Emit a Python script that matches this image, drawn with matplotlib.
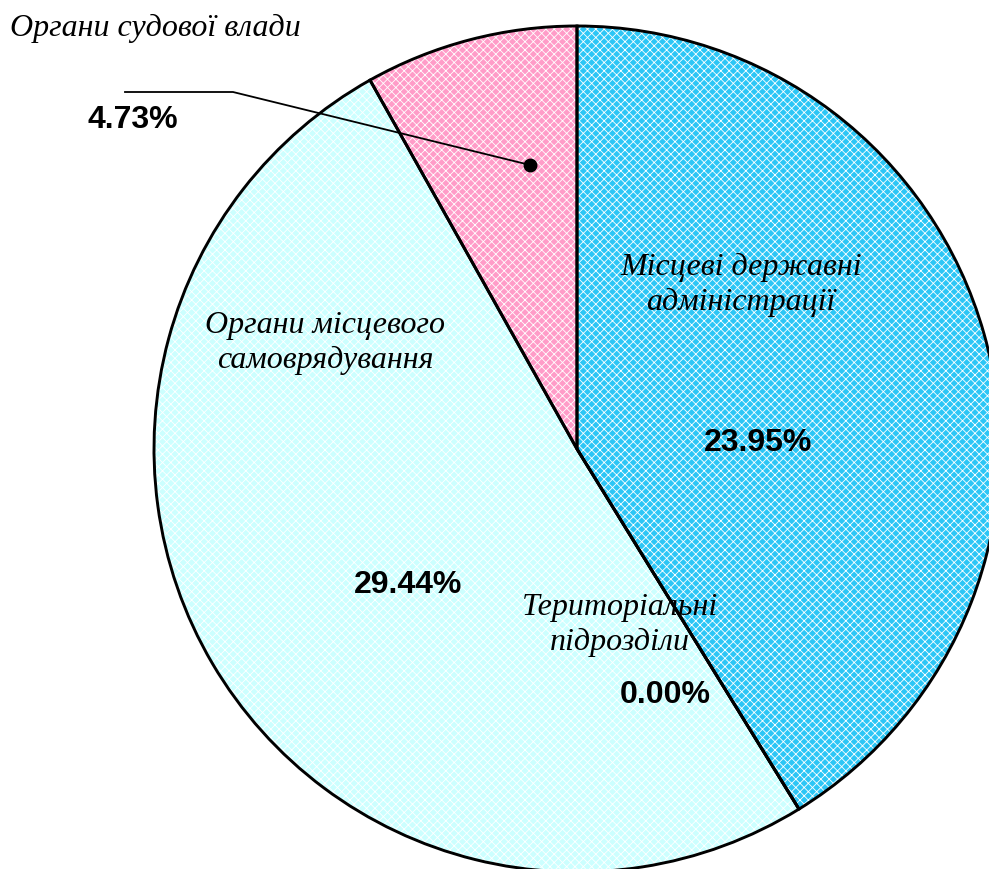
import matplotlib
matplotlib.use("Agg")
import matplotlib.pyplot as plt
from matplotlib.lines import Line2D

categories = ["Місцеві державні\nадміністрації", "Територіальні\nпідрозділи",
              "Органи місцевого\nсамоврядування", "Органи судової влади"]
values = [23.95, 0.00, 29.44, 4.73]
pct_labels = ["23.95%", "0.00%", "29.44%", "4.73%"]
colors = ["#2cc6f6", "#ccffff", "#ccffff", "#ff9cc8"]

W, H = 989, 870
fig = plt.figure(figsize=(W / 100, H / 100), dpi=100)
fig.patch.set_facecolor("white")

cx, cy, r = 577, 450, 423
ax = fig.add_axes([(cx - r) / W, (H - cy - r) / H, 2 * r / W, 2 * r / H])
ax.set_xlim(-1, 1)
ax.set_ylim(-1, 1)
ax.axis("off")

plt.rcParams["hatch.linewidth"] = 0.6
wedges, _ = ax.pie(values, colors=colors, startangle=90, counterclock=False,
                   radius=1, wedgeprops=dict(edgecolor="white", linewidth=0, hatch="xxxx"))
ax.pie(values, colors=["none"] * 4, startangle=90, counterclock=False, radius=1,
       wedgeprops=dict(edgecolor="black", linewidth=2.1, fill=False))
ax.set_xlim(-1, 1)
ax.set_ylim(-1, 1)

def fx(x):
    return x / W
def fy(y):
    return 1 - y / H

ital = dict(family="Liberation Serif", style="italic", fontsize=23)
bold = dict(family="Liberation Sans", weight="bold", fontsize=23)

# labels
fig.text(fx(741), fy(285), categories[0], ha="center", va="center", linespacing=1.25, **ital)
fig.text(fx(758), fy(443), pct_labels[0], ha="center", va="center", **bold)
fig.text(fx(620), fy(625), categories[1], ha="center", va="center", linespacing=1.25, **ital)
fig.text(fx(665), fy(695), pct_labels[1], ha="center", va="center", **bold)
fig.text(fx(325), fy(343), categories[2], ha="center", va="center", linespacing=1.25, **ital)
fig.text(fx(408), fy(585), pct_labels[2], ha="center", va="center", **bold)
fig.text(fx(10), fy(28), categories[3], ha="left", va="center", **ital)
fig.text(fx(133), fy(120), pct_labels[3], ha="center", va="center", **bold)

# leader line
fig.add_artist(Line2D([fx(125), fx(233), fx(530)], [fy(93), fy(93), fy(166)],
                      transform=fig.transFigure, color="black", linewidth=1.3))
fig.add_artist(Line2D([fx(530)], [fy(166)], transform=fig.transFigure, marker="o",
                      markersize=9, color="black"))

fig.savefig("out.png", dpi=100)
